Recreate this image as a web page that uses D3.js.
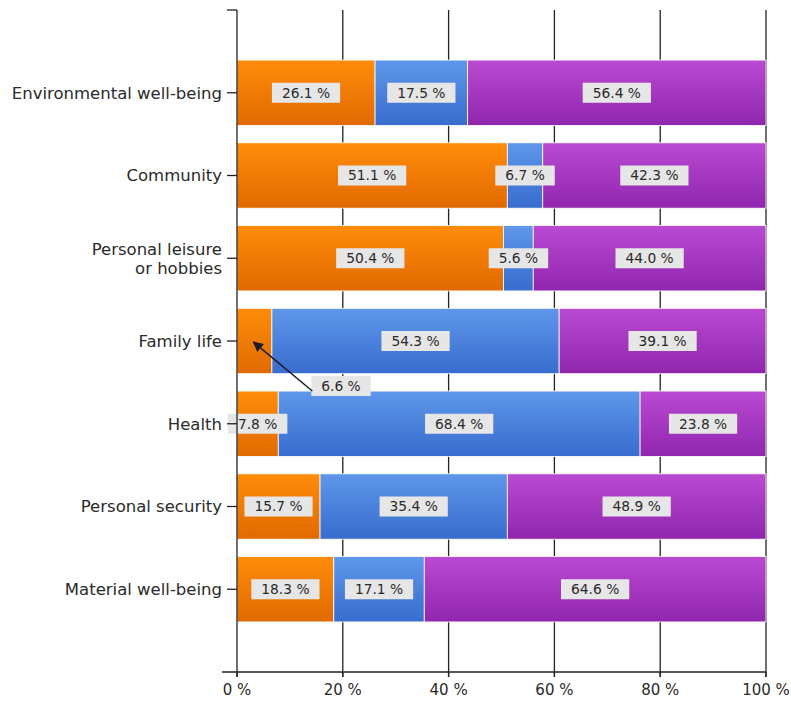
<!DOCTYPE html>
<html>
<head>
<meta charset="utf-8">
<script src="https://cdn.jsdelivr.net/npm/d3@7"></script>
<style>
  html, body { margin: 0; padding: 0; background: #fff; }
  svg { display: block; }
  text { font-family: "DejaVu Sans", Verdana, sans-serif; fill: #2a2a2a; }
</style>
</head>
<body>
<svg id="chart" width="791" height="705"></svg>
<script>
// Categories, top to bottom
const categories = [
  "Environmental well-being",
  "Community",
  "Personal leisure\nor hobbies",
  "Family life",
  "Health",
  "Personal security",
  "Material well-being"
];
// Share (%) for each of the three stacked series
const series1 = [26.1, 51.1, 50.4, 6.6, 7.8, 15.7, 18.3];
const series2 = [17.5, 6.7, 5.6, 54.3, 68.4, 35.4, 17.1];
const series3 = [56.4, 42.3, 44.0, 39.1, 23.8, 48.9, 64.6];
const seriesNames = ["series1", "series2", "series3"];
const xTicks = [0, 20, 40, 60, 80, 100];

const rows = categories.map((c, i) => ({
  category: c, series1: series1[i], series2: series2[i], series3: series3[i]
}));

const svg = d3.select("#chart");
const plotLeft = 237, plotRight = 766, plotTop = 10, plotBottom = 672;

const x = d3.scaleLinear().domain([0, 100]).range([plotLeft, plotRight]).clamp(true);
// Categories sit on integer steps between two empty end slots
const yStep = d3.scaleLinear().domain([0, categories.length + 1]).range([plotTop, plotBottom]);
const y = d3.scalePoint().domain(categories).range([yStep(1), yStep(categories.length)]);
const barH = (yStep(1) - yStep(0)) * 0.79;

const colors = {
  series1: ["#ff8c0a", "#e06a00"],
  series2: ["#5e97ea", "#386cce"],
  series3: ["#ba4ad2", "#9126ae"]
};

const defs = svg.append("defs");
seriesNames.forEach(s => {
  const g = defs.append("linearGradient").attr("id", "g-" + s)
    .attr("x1", 0).attr("y1", 0).attr("x2", 0).attr("y2", 1);
  g.append("stop").attr("offset", "0%").attr("stop-color", colors[s][0]);
  g.append("stop").attr("offset", "100%").attr("stop-color", colors[s][1]);
});
defs.append("marker").attr("id", "arrow")
  .attr("viewBox", "0 0 10 10").attr("refX", 9).attr("refY", 5)
  .attr("markerWidth", 7).attr("markerHeight", 7).attr("orient", "auto")
  .append("path").attr("d", "M0,0L10,5L0,10z").attr("fill", "#1a1a2a");

// Vertical grid lines
svg.append("g").selectAll("line").data(xTicks.slice(1)).join("line")
  .attr("x1", d => x(d)).attr("x2", d => x(d))
  .attr("y1", plotTop).attr("y2", plotBottom + 5)
  .attr("stroke", "#222").attr("stroke-width", 1.3);

// Stacked bars
const stack = d3.stack().keys(seriesNames);
const layers = stack(rows);
const gBars = svg.append("g");
layers.forEach(layer => {
  gBars.append("g").selectAll("rect").data(layer).join("rect")
    .attr("x", d => x(d[0]))
    .attr("width", d => x(d[1]) - x(d[0]))
    .attr("y", d => y(d.data.category) - barH / 2)
    .attr("height", barH)
    .attr("fill", "url(#g-" + layer.key + ")")
    .attr("stroke", "#fff").attr("stroke-width", 0.8);
});

// Value labels
const gLab = svg.append("g");
layers.forEach(layer => {
  layer.forEach(d => {
    const v = d.data[layer.key];
    const cy = y(d.data.category);
    let cx = (x(d[0]) + x(d[1])) / 2;
    let ly = cy;
    const callout = d.data.category === "Family life" && layer.key === "series1";
    if (callout) { cx = 341; ly = cy + 45; }
    const g = gLab.append("g").attr("transform", `translate(${cx},${ly})`);
    const t = g.append("text").attr("text-anchor", "middle").attr("dy", "0.36em")
      .attr("font-size", 13.8).text(v.toFixed(1) + " %");
    const w = t.node().getComputedTextLength() + 20;
    g.insert("rect", "text").attr("x", -w / 2).attr("y", -10).attr("width", w).attr("height", 20)
      .attr("fill", "#e6e6e6");
    if (callout) {
      gLab.append("line")
        .attr("x1", cx - w / 2 + 1).attr("y1", ly + 5)
        .attr("x2", (x(d[0]) + x(d[1])) / 2 - 1).attr("y2", cy + 1)
        .attr("stroke", "#1a1a2a").attr("stroke-width", 1.5)
        .attr("marker-end", "url(#arrow)");
    }
  });
});

// Left axis
const gy = svg.append("g");
gy.append("line").attr("x1", plotLeft).attr("x2", plotLeft).attr("y1", plotTop).attr("y2", plotBottom + 5)
  .attr("stroke", "#222").attr("stroke-width", 1.3);
gy.append("line").attr("x1", plotLeft - 10).attr("x2", plotLeft).attr("y1", plotTop).attr("y2", plotTop)
  .attr("stroke", "#222").attr("stroke-width", 1.3);
categories.forEach(c => {
  const cy = y(c);
  gy.append("line").attr("x1", plotLeft - 10).attr("x2", plotLeft).attr("y1", cy).attr("y2", cy)
    .attr("stroke", "#222").attr("stroke-width", 1.3);
  const lines = c.split("\n");
  const t = gy.append("text").attr("font-size", 16.5).attr("text-anchor", "end");
  const lh = 19;
  lines.forEach((ln, i) => {
    t.append("tspan").attr("x", plotLeft - 15)
      .attr("y", cy + (i - (lines.length - 1) / 2) * lh).attr("dy", "0.36em").text(ln);
  });
});

// Bottom axis
const gx = svg.append("g");
gx.append("line").attr("x1", plotLeft - 15).attr("x2", plotRight).attr("y1", plotBottom).attr("y2", plotBottom)
  .attr("stroke", "#222").attr("stroke-width", 1.3);
xTicks.forEach(t => {
  gx.append("line").attr("x1", x(t)).attr("x2", x(t)).attr("y1", plotBottom).attr("y2", plotBottom + 5)
    .attr("stroke", "#222").attr("stroke-width", 1.3);
  gx.append("text").attr("x", x(t)).attr("y", plotBottom + 18).attr("dy", "0.36em")
    .attr("text-anchor", "middle").attr("font-size", 15).text(t + " %");
});
</script>
</body>
</html>
